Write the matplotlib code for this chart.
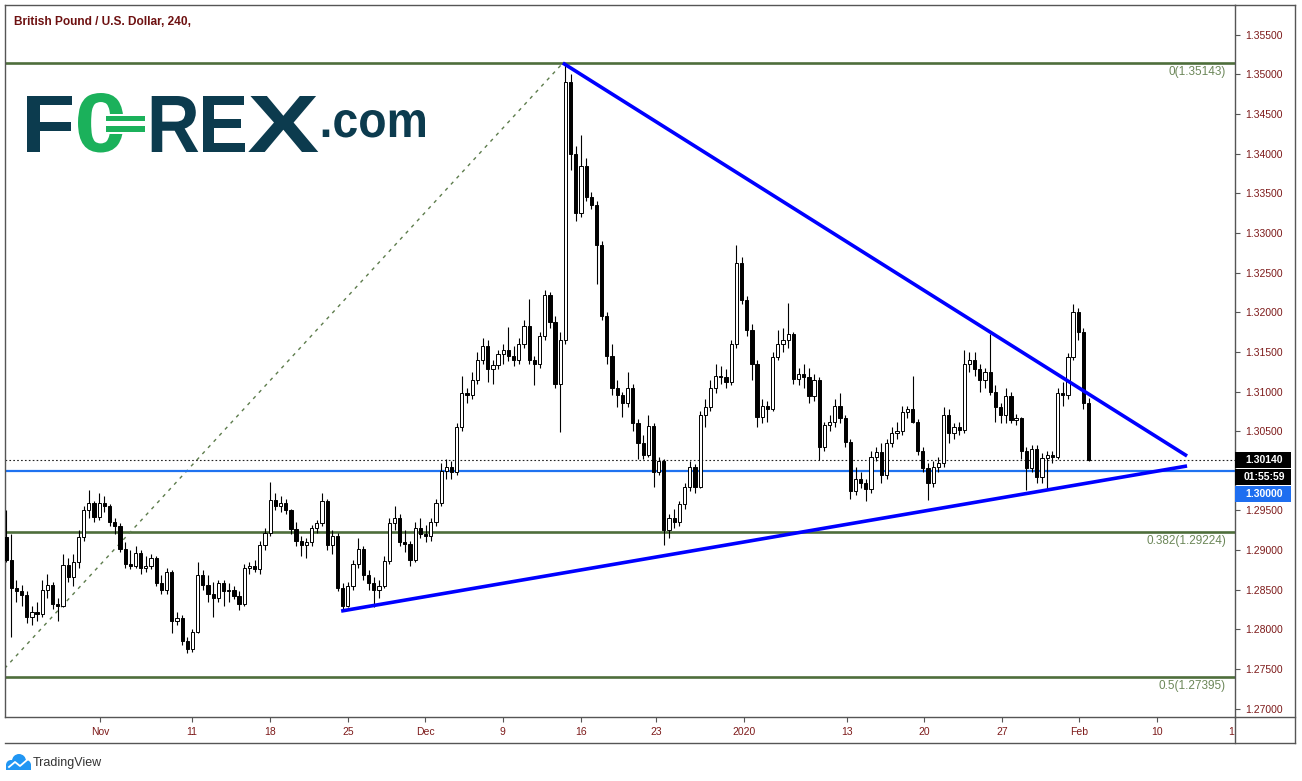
import matplotlib
matplotlib.use('Agg')
import matplotlib.pyplot as plt
import numpy as np
from matplotlib.patches import Rectangle, PathPatch, Circle
from matplotlib.textpath import TextPath
from matplotlib.font_manager import FontProperties
from matplotlib.transforms import Affine2D, IdentityTransform
from matplotlib.lines import Line2D

plt.rcParams['font.family'] = ['Liberation Sans', 'DejaVu Sans']

W, H = 1302, 781

# GBP/USD, 8h candles (late Oct 2019 - 3 Feb 2020)
opens = [
    1.2917, 1.2888, 1.2852, 1.2848, 1.2843, 1.2815, 1.2822, 1.2820, 1.2850, 1.2856,
    1.2832, 1.2830, 1.2881, 1.2866, 1.2885, 1.2917, 1.2950, 1.2959, 1.2942, 1.2960,
    1.2955, 1.2936, 1.2930, 1.2902, 1.2882, 1.2880, 1.2896, 1.2878, 1.2880, 1.2890,
    1.2858, 1.2850, 1.2872, 1.2810, 1.2814, 1.2785, 1.2775, 1.2797, 1.2868, 1.2856,
    1.2845, 1.2840, 1.2858, 1.2848, 1.2850, 1.2842, 1.2832, 1.2878, 1.2880, 1.2876,
    1.2906, 1.2922, 1.2963, 1.2955, 1.2960, 1.2950, 1.2926, 1.2912, 1.2906, 1.2910,
    1.2928, 1.2934, 1.2962, 1.2906, 1.2918, 1.2852, 1.2830, 1.2855, 1.2882, 1.2902,
    1.2868, 1.2858, 1.2850, 1.2855, 1.2886, 1.2934, 1.2940, 1.2910, 1.2908, 1.2888,
    1.2928, 1.2920, 1.2918, 1.2935, 1.2960, 1.3000, 1.3005, 1.2998, 1.3055, 1.3098,
    1.3095, 1.3115, 1.3140, 1.3157, 1.3128, 1.3133, 1.3147, 1.3152, 1.3145, 1.3140,
    1.3160, 1.3183, 1.3140, 1.3135, 1.3170, 1.3222, 1.3188, 1.3110, 1.3165, 1.3490,
    1.3400, 1.3325, 1.3385, 1.3345, 1.3335, 1.3285, 1.3195, 1.3145, 1.3105, 1.3095,
    1.3085, 1.3105, 1.3060, 1.3035, 1.3020, 1.3056, 1.2998, 1.3012, 1.2925, 1.2940,
    1.2935, 1.2958, 1.2980, 1.3005, 1.2980, 1.3070, 1.3080, 1.3105, 1.3120, 1.3118,
    1.3112, 1.3160, 1.3262, 1.3215, 1.3178, 1.3135, 1.3068, 1.3082, 1.3078, 1.3144,
    1.3160, 1.3165, 1.3172, 1.3116, 1.3122, 1.3118, 1.3094, 1.3115, 1.3030, 1.3058,
    1.3062, 1.3082, 1.3066, 1.3036, 1.2975, 1.2990, 1.2985, 1.2977, 1.3018, 1.3024,
    1.2995, 1.3035, 1.3048, 1.3050, 1.3074, 1.3078, 1.3062, 1.3025, 1.3003, 1.2985,
    1.3005, 1.3010, 1.3070, 1.3048, 1.3055, 1.3052, 1.3135, 1.3140, 1.3128, 1.3115,
    1.3125, 1.3100, 1.3080, 1.3070, 1.3094, 1.3064, 1.3066, 1.3025, 1.3003, 1.3028,
    1.2992, 1.3016, 1.3020, 1.3018, 1.3098, 1.3096, 1.3143, 1.3200, 1.3175, 1.3085,
]
highs = [
    1.2950, 1.2920, 1.2862, 1.2856, 1.2848, 1.2830, 1.2835, 1.2862, 1.2870, 1.2860,
    1.2840, 1.2895, 1.2890, 1.2895, 1.2925, 1.2955, 1.2976, 1.2962, 1.2972, 1.2968,
    1.2958, 1.2940, 1.2934, 1.2910, 1.2900, 1.2905, 1.2900, 1.2892, 1.2895, 1.2892,
    1.2868, 1.2878, 1.2875, 1.2822, 1.2818, 1.2790, 1.2800, 1.2885, 1.2875, 1.2868,
    1.2860, 1.2862, 1.2862, 1.2858, 1.2855, 1.2848, 1.2882, 1.2885, 1.2888, 1.2912,
    1.2928, 1.2986, 1.2972, 1.2968, 1.2965, 1.2952, 1.2935, 1.2918, 1.2915, 1.2932,
    1.2938, 1.2972, 1.2965, 1.2925, 1.2922, 1.2858, 1.2860, 1.2888, 1.2915, 1.2905,
    1.2875, 1.2866, 1.2862, 1.2892, 1.2940, 1.2955, 1.2945, 1.2925, 1.2912, 1.2935,
    1.2940, 1.2932, 1.2940, 1.2965, 1.3010, 1.3015, 1.3012, 1.3060, 1.3120, 1.3105,
    1.3125, 1.3150, 1.3167, 1.3165, 1.3140, 1.3152, 1.3160, 1.3182, 1.3158, 1.3168,
    1.3190, 1.3217, 1.3145, 1.3175, 1.3228, 1.3226, 1.3195, 1.3175, 1.3514, 1.3500,
    1.3410, 1.3423, 1.3395, 1.3352, 1.3340, 1.3290, 1.3200, 1.3160, 1.3115, 1.3100,
    1.3125, 1.3110, 1.3065, 1.3045, 1.3070, 1.3060, 1.3018, 1.3015, 1.2945, 1.2952,
    1.2962, 1.2985, 1.3012, 1.3008, 1.3075, 1.3090, 1.3115, 1.3135, 1.3132, 1.3128,
    1.3165, 1.3285, 1.3270, 1.3220, 1.3185, 1.3140, 1.3090, 1.3088, 1.3150, 1.3178,
    1.3180, 1.3212, 1.3175, 1.3130, 1.3135, 1.3130, 1.3122, 1.3118, 1.3062, 1.3070,
    1.3090, 1.3098, 1.3070, 1.3040, 1.3005, 1.2998, 1.2990, 1.3025, 1.3030, 1.3035,
    1.3040, 1.3055, 1.3062, 1.3082, 1.3082, 1.3119, 1.3065, 1.3030, 1.3010, 1.3012,
    1.3018, 1.3080, 1.3078, 1.3060, 1.3062, 1.3152, 1.3150, 1.3150, 1.3135, 1.3130,
    1.3173, 1.3108, 1.3085, 1.3105, 1.3100, 1.3072, 1.3068, 1.3030, 1.3032, 1.3032,
    1.3022, 1.3025, 1.3025, 1.3105, 1.3112, 1.3148, 1.3210, 1.3205, 1.3180, 1.3092,
]
lows = [
    1.2885, 1.2790, 1.2835, 1.2830, 1.2808, 1.2805, 1.2810, 1.2815, 1.2840, 1.2826,
    1.2810, 1.2828, 1.2860, 1.2855, 1.2878, 1.2912, 1.2940, 1.2935, 1.2938, 1.2948,
    1.2930, 1.2920, 1.2898, 1.2878, 1.2876, 1.2878, 1.2870, 1.2872, 1.2876, 1.2855,
    1.2845, 1.2845, 1.2795, 1.2805, 1.2780, 1.2770, 1.2772, 1.2795, 1.2850, 1.2835,
    1.2815, 1.2835, 1.2830, 1.2835, 1.2838, 1.2825, 1.2830, 1.2870, 1.2872, 1.2870,
    1.2900, 1.2918, 1.2950, 1.2948, 1.2945, 1.2920, 1.2905, 1.2892, 1.2890, 1.2905,
    1.2922, 1.2930, 1.2900, 1.2895, 1.2848, 1.2823, 1.2828, 1.2850, 1.2878, 1.2862,
    1.2850, 1.2828, 1.2840, 1.2852, 1.2882, 1.2925, 1.2905, 1.2898, 1.2880, 1.2885,
    1.2915, 1.2910, 1.2912, 1.2930, 1.2955, 1.2990, 1.2990, 1.2995, 1.3050, 1.3085,
    1.3090, 1.3110, 1.3135, 1.3112, 1.3110, 1.3128, 1.3135, 1.3138, 1.3132, 1.3135,
    1.3155, 1.3135, 1.3108, 1.3130, 1.3165, 1.3180, 1.3105, 1.3049, 1.3160, 1.3380,
    1.3315, 1.3320, 1.3340, 1.3330, 1.3236, 1.3190, 1.3135, 1.3095, 1.3080, 1.3068,
    1.3080, 1.3050, 1.3015, 1.3015, 1.3018, 1.2980, 1.2995, 1.2907, 1.2915, 1.2928,
    1.2930, 1.2952, 1.2975, 1.2972, 1.2978, 1.3055, 1.3075, 1.3098, 1.3110, 1.3105,
    1.3108, 1.3155, 1.3210, 1.3170, 1.3115, 1.3055, 1.3060, 1.3062, 1.3075, 1.3140,
    1.3150, 1.3155, 1.3110, 1.3108, 1.3105, 1.3085, 1.3088, 1.3014, 1.3025, 1.3050,
    1.3055, 1.3060, 1.3030, 1.2964, 1.2970, 1.2978, 1.2962, 1.2972, 1.3012, 1.2985,
    1.2990, 1.3030, 1.3040, 1.3045, 1.3066, 1.3060, 1.3020, 1.2998, 1.2963, 1.2980,
    1.2998, 1.3005, 1.3035, 1.3040, 1.3045, 1.3048, 1.3125, 1.3120, 1.3100, 1.3105,
    1.3095, 1.3062, 1.3060, 1.3060, 1.3060, 1.3058, 1.3015, 1.2976, 1.2998, 1.2985,
    1.2985, 1.2976, 1.3010, 1.3015, 1.3082, 1.3090, 1.3140, 1.3165, 1.3078, 1.3012,
]
closes = [
    1.2888, 1.2852, 1.2848, 1.2843, 1.2815, 1.2822, 1.2820, 1.2850, 1.2856, 1.2832,
    1.2830, 1.2881, 1.2866, 1.2885, 1.2917, 1.2950, 1.2959, 1.2942, 1.2960, 1.2955,
    1.2936, 1.2930, 1.2902, 1.2882, 1.2880, 1.2896, 1.2878, 1.2880, 1.2890, 1.2858,
    1.2850, 1.2872, 1.2810, 1.2814, 1.2785, 1.2775, 1.2797, 1.2868, 1.2856, 1.2845,
    1.2840, 1.2858, 1.2848, 1.2850, 1.2842, 1.2832, 1.2878, 1.2880, 1.2876, 1.2906,
    1.2922, 1.2963, 1.2955, 1.2960, 1.2950, 1.2926, 1.2912, 1.2906, 1.2910, 1.2928,
    1.2934, 1.2962, 1.2906, 1.2918, 1.2852, 1.2830, 1.2855, 1.2882, 1.2902, 1.2868,
    1.2858, 1.2850, 1.2855, 1.2886, 1.2934, 1.2940, 1.2910, 1.2908, 1.2888, 1.2928,
    1.2920, 1.2918, 1.2935, 1.2960, 1.3000, 1.3005, 1.2998, 1.3055, 1.3098, 1.3095,
    1.3115, 1.3140, 1.3157, 1.3128, 1.3133, 1.3147, 1.3152, 1.3145, 1.3140, 1.3160,
    1.3183, 1.3140, 1.3135, 1.3170, 1.3222, 1.3188, 1.3110, 1.3165, 1.3490, 1.3400,
    1.3325, 1.3385, 1.3345, 1.3335, 1.3285, 1.3195, 1.3145, 1.3105, 1.3095, 1.3085,
    1.3105, 1.3060, 1.3035, 1.3020, 1.3056, 1.2998, 1.3012, 1.2925, 1.2940, 1.2935,
    1.2958, 1.2980, 1.3005, 1.2980, 1.3070, 1.3080, 1.3105, 1.3120, 1.3118, 1.3112,
    1.3160, 1.3262, 1.3215, 1.3178, 1.3135, 1.3068, 1.3082, 1.3078, 1.3144, 1.3160,
    1.3165, 1.3172, 1.3116, 1.3122, 1.3118, 1.3094, 1.3115, 1.3030, 1.3058, 1.3062,
    1.3082, 1.3066, 1.3036, 1.2975, 1.2990, 1.2985, 1.2977, 1.3018, 1.3024, 1.2995,
    1.3035, 1.3048, 1.3050, 1.3074, 1.3078, 1.3062, 1.3025, 1.3003, 1.2985, 1.3005,
    1.3010, 1.3070, 1.3048, 1.3055, 1.3052, 1.3135, 1.3140, 1.3128, 1.3115, 1.3125,
    1.3100, 1.3080, 1.3070, 1.3094, 1.3064, 1.3066, 1.3025, 1.3003, 1.3028, 1.2992,
    1.3016, 1.3020, 1.3018, 1.3098, 1.3096, 1.3143, 1.3200, 1.3175, 1.3085, 1.3014,
]

# time axis labels (positions in candle index units)
date_ticks = [18.15, 35.85, 50.9, 66.0, 80.9, 95.9, 111.0, 125.5, 142.4, 162.4,
              177.2, 192.3, 207.1, 222.2, 236.5]
date_labels = ['Nov', '11', '18', '25', 'Dec', '9', '16', '23', '2020', '13',
               '20', '27', 'Feb', '10', '1']
price_ticks = [1.270, 1.275, 1.280, 1.285, 1.290, 1.295, 1.305, 1.310, 1.315,
               1.320, 1.325, 1.330, 1.335, 1.340, 1.345, 1.350, 1.355]

# fibonacci retracement drawn from the September low to the election high
fib_ratios = ['0', '0.382', '0.5']
fib_prices = [1.35143, 1.29224, 1.27395]
fib_leg_x = [-111.2, 107.5]
fib_leg_y = [1.19648, 1.35143]

# triangle trend lines
upper_x, upper_y = [107.5, 228.0], [1.35143, 1.30187]
lower_x, lower_y = [64.7, 228.0], [1.28231, 1.30061]

support_level = 1.30000
last_price = 1.30140
countdown = '01:55:59'

maroon = '#7d1a1a'
frame = '#555555'
fib_green = '#4e6e3b'


def fx(px):
    return px / W


def fy(py):
    return 1 - py / H


fig = plt.figure(figsize=(W / 100, H / 100), dpi=100)
fig.patch.set_facecolor('white')

# plot area (pixel frame 5..1235 x 5..717), 5.18 px per candle, first candle at x=6
bar_px, bar0 = 5.18, 6.0
ax = fig.add_axes([fx(5), fy(717), (1235 - 5) / W, (717 - 5) / H])
ax.set_xlim((5 - bar0) / bar_px, (1235 - bar0) / bar_px)
ax.set_ylim(1.26895, 1.35875)
ax.set_facecolor('white')

# candles
x = np.arange(len(closes))
o = np.array(opens)
c = np.array(closes)
up = c >= o
bottom = np.minimum(o, c)
height = np.maximum(np.abs(c - o), 0.00008)
ax.vlines(x, lows, highs, color='black', linewidth=0.8, zorder=3)
ax.bar(x[up], height[up], bottom=bottom[up], width=0.62, color='white',
       edgecolor='black', linewidth=0.7, zorder=4)
ax.bar(x[~up], height[~up], bottom=bottom[~up], width=0.62, color='black',
       edgecolor='black', linewidth=0.7, zorder=4)

# fib levels and labels
for r, p in zip(fib_ratios, fib_prices):
    ax.axhline(p, color=fib_green, linewidth=1.9, zorder=2)
    ax.text((1226 - bar0) / bar_px, p - 0.00035, '%s(%.5f)' % (r, p), ha='right',
            va='top', fontsize=8.5, color='#6c8759', zorder=6)
ax.plot(fib_leg_x, fib_leg_y, color='#5d7c4c', linewidth=1.0,
        linestyle=(0, (2.5, 3.5)), zorder=2)

# support and last price
ax.axhline(support_level, color='#1f72f0', linewidth=1.6, zorder=2)
ax.axhline(last_price, color='#222222', linewidth=0.8, linestyle=(0, (1.5, 2)), zorder=2)

# triangle
ax.plot(upper_x, upper_y, color='#0000ff', linewidth=2.6, solid_capstyle='butt', zorder=5)
ax.plot(lower_x, lower_y, color='#0000ff', linewidth=2.6, solid_capstyle='butt', zorder=5)

# axes styling
for s in ax.spines.values():
    s.set_color(frame)
    s.set_linewidth(1.0)
ax.yaxis.tick_right()
ax.set_yticks(price_ticks)
ax.set_yticklabels(['%.5f' % p for p in price_ticks])
ax.tick_params(axis='y', direction='out', length=3.5, width=0.8, color=frame,
               labelcolor=maroon, labelsize=7.5, pad=4)
ax.set_xticks(date_ticks)
ax.set_xticklabels(date_labels)
ax.tick_params(axis='x', direction='out', length=3.5, width=0.8, color=frame,
               labelcolor=maroon, labelsize=7.5, pad=3.5)
ax.xaxis.get_major_ticks()[-1].tick1line.set_visible(False)

# outer frame of price/time scales
for (x0, y0, x1, y1) in [(5, 743, 1295, 743), (1295, 5, 1295, 743),
                         (1235, 717, 1235, 743), (1235, 717, 1295, 717),
                         (1235, 5, 1295, 5)]:
    fig.add_artist(Line2D([fx(x0), fx(x1)], [fy(y0), fy(y1)], transform=fig.transFigure,
                          color=frame, linewidth=1.0))

# price scale badges
badges = [(452, 467.5, 'black', '%.5f' % last_price),
          (469, 485, 'black', countdown),
          (486, 502, '#1e6ef0', '%.5f' % support_level)]
for (y0, y1, col, txt) in badges:
    fig.add_artist(Rectangle((fx(1235), fy(y1)), (1291 - 1235) / W, (y1 - y0) / H,
                             transform=fig.transFigure, facecolor=col, edgecolor='none',
                             zorder=10))
    fig.text(fx(1264), fy((y0 + y1) / 2), txt, ha='center', va='center', color='white',
             fontsize=7.5, fontweight='bold', zorder=11)

# title
fig.text(fx(14), fy(22), 'British Pound / U.S. Dollar, 240,', ha='left', va='center',
         fontsize=8.6, fontweight='bold', color='#6e1111')

# FOREX.com logo, each glyph fitted to its box
logo_font = FontProperties(family='Liberation Sans', weight='bold')
teal = '#0c3b4e'
green = '#1bb15b'


def glyph(s, x0, x1, ytop, ybot, color, z=7):
    tp = TextPath((0, 0), s, size=100, prop=logo_font)
    b = tp.get_extents()
    tr = (Affine2D().translate(-b.x0, -b.y0)
          .scale((x1 - x0) / b.width / W, (ybot - ytop) / b.height / H)
          .translate(fx(x0), fy(ybot)))
    fig.add_artist(PathPatch(tr.transform_path(tp), transform=fig.transFigure,
                             facecolor=color, edgecolor='none', zorder=z))


glyph('F', 27.3, 71.7, 96, 152, teal)
glyph('0', 78, 123.5, 93, 152.5, green)
glyph('R', 151.7, 198.3, 96, 152, teal)
glyph('E', 203.3, 245, 96, 152, teal)
glyph('X', 248.3, 318.3, 96, 152, teal)
glyph('.com', 322.7, 425, 110, 137.5, teal)
fig.add_artist(Rectangle((fx(108), fy(133.5)), 38 / W, 19.5 / H, transform=fig.transFigure,
                         facecolor='white', edgecolor='none', zorder=8))
for (ya, yb) in [(116, 121), (126.5, 131.5)]:
    fig.add_artist(Rectangle((fx(106), fy(yb)), 39 / W, (yb - ya) / H,
                             transform=fig.transFigure, facecolor=green,
                             edgecolor='none', zorder=9))

# TradingView footer
idt = IdentityTransform()
for (cx, cy, r) in [(11, 765, 5), (19, 761, 7), (26, 765, 5)]:
    fig.add_artist(Circle((cx, H - cy), r, transform=idt, facecolor='#2196f3',
                          edgecolor='none'))
fig.add_artist(Rectangle((6, H - 770), 25, 5, transform=idt, facecolor='#2196f3',
                         edgecolor='none'))
fig.add_artist(Line2D([9, 15, 20, 27], [H - 767, H - 762, H - 766, H - 760], transform=idt,
                      color='white', linewidth=1.3))
fig.text(fx(33), fy(763), 'TradingView', ha='left', va='center', fontsize=9,
         color='#333333')

fig.savefig('out.png', dpi=100)
